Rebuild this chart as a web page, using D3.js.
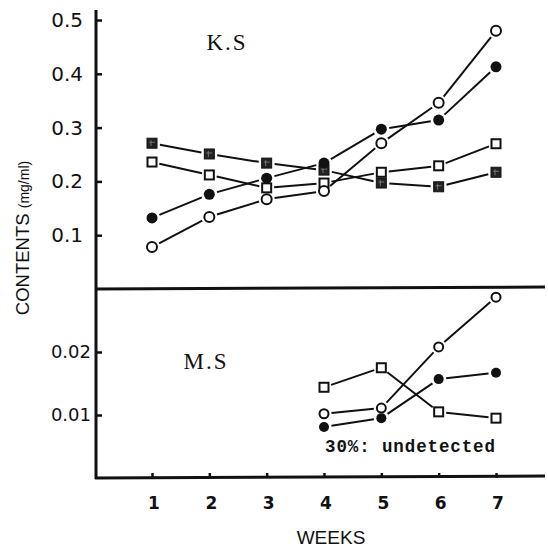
<!DOCTYPE html>
<html><head><meta charset="utf-8">
<script src="https://cdn.jsdelivr.net/npm/d3@7"></script>
<style>html,body{margin:0;padding:0;background:#fff;}svg{display:block;}</style>
</head><body>
<script>
// ---- data ----
const weeks = [1,2,3,4,5,6,7];
const ksOpenCircle   = [0.078,0.134,0.167,0.182,0.271,0.346,0.480];
const ksFilledCircle = [0.132,0.176,0.206,0.234,0.297,0.314,0.413];
const ksOpenSquare   = [0.236,0.212,0.188,0.197,0.217,0.229,0.270];
const ksFilledSquare = [0.271,0.251,0.234,0.221,0.197,0.190,0.217];
const msWeeks = [4,5,6,7];
const msOpenSquare   = [0.0144,0.0175,0.0105,0.0095];
const msOpenCircle   = [0.0102,0.0111,0.0208,0.0287];
const msFilledCircle = [0.0081,0.0095,0.0157,0.0167];
const ksTicks = [0.1,0.2,0.3,0.4,0.5];
const msTicks = [0.01,0.02];
const weekTickLabels = ["1","2","3","4","5","6","7"];

const W=548,H=547;
const svg=d3.select("body").append("svg").attr("width",W).attr("height",H);

const x=d3.scaleLinear().domain([1,7]).range([152,496]);
const yTop=d3.scaleLinear().domain([0,0.5]).range([289,20]);
const yBot=d3.scaleLinear().domain([0,0.03]).range([478,289]);

const ink="#111";

// axes
const axTop=svg.append("g").attr("transform","translate(96,0)")
  .call(d3.axisRight(yTop).tickValues(ksTicks).tickSize(6).tickFormat(""));
const axBot=svg.append("g").attr("transform","translate(96,0)")
  .call(d3.axisRight(yBot).tickValues(msTicks).tickSize(6).tickFormat(""));
const axX=svg.append("g").attr("transform","translate(0,478)")
  .call(d3.axisTop(x).tickValues(weeks).tickSize(5).tickFormat(""));
[axTop,axBot,axX].forEach(g=>{g.select(".domain").remove();g.selectAll(".tick line").attr("stroke",ink).attr("stroke-width",2.5);});

// main axis lines
svg.append("line").attr("x1",96).attr("x2",96).attr("y1",10).attr("y2",479).attr("stroke",ink).attr("stroke-width",3);
svg.append("line").attr("x1",95).attr("x2",545).attr("y1",yTop(0)).attr("y2",yTop(0)-2).attr("stroke",ink).attr("stroke-width",3);
svg.append("line").attr("x1",95).attr("x2",545).attr("y1",yBot(0)).attr("y2",yBot(0)-2).attr("stroke",ink).attr("stroke-width",3);

// tick labels
svg.selectAll(".ktl").data(ksTicks).enter().append("text")
  .attr("x",83).attr("y",d=>yTop(d)).attr("dy","0.35em").attr("text-anchor","end")
  .attr("font-family","DejaVu Sans").attr("font-size",20).attr("fill",ink)
  .text(d=>d3.format(".1f")(d));
svg.selectAll(".mtl").data(msTicks).enter().append("text")
  .attr("x",91).attr("y",d=>yBot(d)).attr("dy","0.35em").attr("text-anchor","end")
  .attr("font-family","DejaVu Sans").attr("font-size",18).attr("fill",ink)
  .text(d=>d3.format(".2f")(d));
svg.selectAll(".wtl").data(weeks).enter().append("text")
  .attr("x",d=>x(d)+2).attr("y",503).attr("dy","0.35em").attr("text-anchor","middle")
  .attr("font-family","DejaVu Sans").attr("font-weight","bold").attr("font-size",17).attr("fill",ink)
  .text((d,i)=>weekTickLabels[i]);

svg.append("text").attr("x",331).attr("y",544).attr("text-anchor","middle")
  .attr("font-family","Liberation Sans").attr("font-size",19).attr("fill",ink).text("WEEKS");
svg.append("text").attr("transform","translate(29,238) rotate(-90)").attr("text-anchor","middle")
  .attr("font-family","Liberation Sans").attr("fill",ink)
  .call(t=>{t.append("tspan").attr("font-size",18.5).text("CONTENTS ");t.append("tspan").attr("font-size",14).text("(mg/ml)");});

svg.append("text").attr("x",227).attr("y",50).attr("text-anchor","middle")
  .attr("font-family","Liberation Serif").attr("font-size",23).attr("letter-spacing",2).attr("fill",ink).text("K.S");
svg.append("text").attr("x",206).attr("y",369).attr("text-anchor","middle")
  .attr("font-family","Liberation Serif").attr("font-size",23).attr("letter-spacing",2).attr("fill",ink).text("M.S");
svg.append("text").attr("x",325).attr("y",452)
  .attr("font-family","Liberation Mono").attr("font-weight","bold").attr("font-size",17.5).attr("fill",ink)
  .attr("textLength",170).text("30%: undetected");

// series drawing
function drawSeries(xs, vals, yS, shape, r){
  const pts=xs.map((w,i)=>[x(w),yS(vals[i])]);
  const gap=r+3;
  const g=svg.append("g");
  for(let i=0;i<pts.length-1;i++){
    const [x1,y1]=pts[i],[x2,y2]=pts[i+1];
    const dx=x2-x1,dy=y2-y1,L=Math.hypot(dx,dy);
    const ux=dx/L,uy=dy/L;
    g.append("line").attr("x1",x1+ux*gap).attr("y1",y1+uy*gap)
      .attr("x2",x2-ux*gap).attr("y2",y2-uy*gap)
      .attr("stroke",ink).attr("stroke-width",2);
  }
  pts.forEach(([px,py])=>{
    if(shape==="oc") g.append("circle").attr("cx",px).attr("cy",py).attr("r",r).attr("fill","#fff").attr("stroke",ink).attr("stroke-width",2);
    if(shape==="fc") g.append("circle").attr("cx",px).attr("cy",py).attr("r",r+0.5).attr("fill",ink);
    if(shape==="os") g.append("rect").attr("x",px-r).attr("y",py-r).attr("width",2*r).attr("height",2*r).attr("fill","#fff").attr("stroke",ink).attr("stroke-width",2);
    if(shape==="fs"){
      g.append("rect").attr("x",px-r).attr("y",py-r).attr("width",2*r).attr("height",2*r).attr("fill","#222").attr("stroke",ink).attr("stroke-width",1);
      g.append("path").attr("d",`M${px-r+2},${py-1}H${px+r-2}M${px-1},${py-r+2}V${py+r-2}`).attr("stroke","#888").attr("stroke-width",0.8);
    }
  });
}
drawSeries(weeks,ksFilledSquare,yTop,"fs",5);
drawSeries(weeks,ksOpenSquare,yTop,"os",4.5);
drawSeries(weeks,ksOpenCircle,yTop,"oc",5);
drawSeries(weeks,ksFilledCircle,yTop,"fc",5);
drawSeries(msWeeks,msOpenSquare,yBot,"os",4.5);
drawSeries(msWeeks,msOpenCircle,yBot,"oc",4.5);
drawSeries(msWeeks,msFilledCircle,yBot,"fc",4.5);
</script>
</body></html>
